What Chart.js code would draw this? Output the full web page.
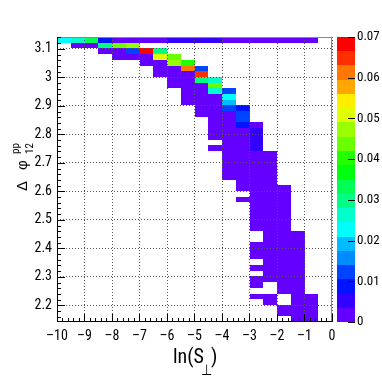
<!DOCTYPE html>
<html>
<head>
<meta charset="utf-8">
<script src="https://cdn.jsdelivr.net/npm/chart.js@4.4.0/dist/chart.umd.min.js"></script>
<style>
  html, body { margin: 0; padding: 0; background: #fff; }
  #wrap { width: 382px; height: 382px; position: relative; }
</style>
</head>
<body>
<div id="wrap"><canvas id="hist"></canvas></div>
<script>
// ── 2D histogram binning ────────────────────────────────────────
const X_MIN = -10, X_MAX = 0, X_BIN = 0.5;          // ln(S_perp), 20 bins
const Y_MAX = Math.PI, Y_MIN = Math.PI - 1, Y_BIN = 0.02; // delta phi, 50 bins
const Z_MAX = 0.07, N_CONTOURS = 20;

const X_TICKS = [-10, -9, -8, -7, -6, -5, -4, -3, -2, -1, 0];
const Y_TICKS = [2.2, 2.3, 2.4, 2.5, 2.6, 2.7, 2.8, 2.9, 3.0, 3.1];
const Z_TICKS = [0, 0.01, 0.02, 0.03, 0.04, 0.05, 0.06, 0.07];

// rows from the top bin (just below pi) downwards:
// first filled x bin of each row, then the bin contents from there (0 = empty)
const ROW_START = [
  0, 1, 3, 4, 6, 7, 7, 8, 8, 9,
  9, 9, 10, 10, 11, 11, 11, 11, 12, 11,
  12, 12, 12, 12, 12, 13, 13, 14, 13, 14,
  14, 14, 14, 14, 15, 15, 14, 14, 14, 15,
  14, 15, 14, 14, 16, 14, 15, 16, 16, 17
];
const ROW_VALUES = [
  [0.023, 0.026, 0.033, 0.009, 0.003, 0.003, 0.003, 0.003, 0.005, 0.005, 0.006, 0.006, 0.003, 0.002, 0.002, 0.002, 0.002, 0.002, 0.002],
  [0.002, 0.003, 0.030, 0.045, 0.046],
  [0.002, 0.003, 0.012, 0.068, 0.029],
  [0.002, 0.003, 0.003, 0.051, 0.045],
  [0.002, 0.003, 0.046, 0.040],
  [0.002, 0.003, 0.061, 0.012],
  [0.002, 0.003, 0.003, 0.065],
  [0.002, 0.003, 0.029, 0.028],
  [0.002, 0.003, 0.003, 0.043],
  [0.002, 0.003, 0.026, 0.012],
  [0.002, 0.003, 0.003, 0.022],
  [0.002, 0.003, 0.003, 0.021],
  [0.003, 0.003, 0.012, 0.008],
  [0.002, 0.003, 0.003, 0.013],
  [0.003, 0.003, 0.013],
  [0.003, 0.003, 0.009, 0.002],
  [0.002, 0.003, 0.003, 0.005],
  [0.002, 0.003, 0.003, 0.005],
  [0.003, 0.003, 0.005],
  [0.002, 0.003, 0.003, 0.005],
  [0.003, 0.003, 0.003, 0.002],
  [0.003, 0.003, 0.003, 0.002],
  [0.002, 0.003, 0.003, 0.002],
  [0.002, 0.003, 0.003, 0.002],
  [0.002, 0.003, 0.003, 0.002],
  [0.003, 0.003, 0.002],
  [0.002, 0.003, 0.003, 0.002],
  [0.003, 0.003, 0.002],
  [0.002, 0.003, 0.003, 0.002],
  [0.003, 0.003, 0.002],
  [0.003, 0.003, 0.002],
  [0.003, 0.003, 0.002],
  [0.002, 0.003, 0.002],
  [0.002, 0.003, 0.002],
  [0.003, 0.003, 0.002],
  [0.003, 0.003, 0.002],
  [0.002, 0.003, 0.003, 0.002],
  [0.002, 0.003, 0.003, 0.002],
  [0.002, 0.003, 0.003, 0.002],
  [0.003, 0.003, 0.002],
  [0.002, 0.003, 0.003, 0.002],
  [0.003, 0.003, 0.002],
  [0.002, 0.003, 0.003, 0.002],
  [0.002, 0, 0.003, 0.002],
  [0.003, 0.002],
  [0.002, 0.002, 0, 0.003, 0.002],
  [0.002, 0, 0.003, 0.002],
  [0.002, 0.003, 0.002],
  [0.002, 0.003, 0.002],
  [0.002, 0.002]
];

const FONT = "'Roboto Condensed', 'Liberation Sans', Arial, sans-serif";

// ROOT "pretty palette": HLS hue scan violet -> red, one colour per contour
function contourColor(k) {
  const i = Math.floor((k + 0.99) * 50 / N_CONTOURS);
  const hue = i >= 49 ? 0 : 280 - (i + 1) * 5.6;
  return `hsl(${hue}, 100%, 50%)`;
}
function colorFor(v) {
  const k = Math.min(N_CONTOURS - 1, Math.floor(v / (Z_MAX / N_CONTOURS)));
  return contourColor(k);
}

const heatmap = {
  id: 'heatmap',
  beforeDraw(chart) {
    const { ctx, chartArea: a, scales: { x, y } } = chart;
    ctx.save();
    ctx.beginPath();
    ctx.rect(a.left, a.top, a.width, a.height);
    ctx.clip();
    ROW_VALUES.forEach((vals, r) => {
      const hi = Y_MAX - r * Y_BIN;
      const top = Math.round(y.getPixelForValue(hi));
      const bot = Math.round(y.getPixelForValue(hi - Y_BIN));
      vals.forEach((v, i) => {
        if (!v) return;
        const c = ROW_START[r] + i;
        const l = Math.round(x.getPixelForValue(X_MIN + c * X_BIN));
        const rr = Math.round(x.getPixelForValue(X_MIN + (c + 1) * X_BIN));
        ctx.fillStyle = colorFor(v);
        ctx.fillRect(l, top, rr - l, bot - top);
      });
    });
    ctx.restore();
  },
  afterDraw(chart) {
    const { ctx, chartArea: a, scales: { x, y, z } } = chart;
    ctx.save();

    // frame
    ctx.lineWidth = 1;
    ctx.strokeStyle = '#888';
    ctx.beginPath();
    ctx.moveTo(a.left, a.top + 0.5); ctx.lineTo(a.right - 0.5, a.top + 0.5);
    ctx.lineTo(a.right - 0.5, a.bottom);
    ctx.stroke();
    ctx.strokeStyle = '#000';
    ctx.beginPath();
    ctx.moveTo(a.left + 0.5, a.top); ctx.lineTo(a.left + 0.5, a.bottom - 0.5);
    ctx.lineTo(a.right, a.bottom - 0.5);
    ctx.stroke();

    // inward tick marks, ROOT style
    ctx.beginPath();
    for (let v = X_MIN; v <= X_MAX + 1e-9; v += 0.2) {
      const px = Math.round(x.getPixelForValue(v)) + 0.5;
      const major = Math.abs(v - Math.round(v)) < 1e-6;
      ctx.moveTo(px, a.bottom);
      ctx.lineTo(px, a.bottom - (major ? 8 : 4));
    }
    for (let v = Math.ceil(Y_MIN / 0.02) * 0.02; v <= Y_MAX; v += 0.02) {
      const py = Math.round(y.getPixelForValue(v)) + 0.5;
      const major = Math.abs(v * 10 - Math.round(v * 10)) < 1e-6;
      ctx.moveTo(a.left, py);
      ctx.lineTo(a.left + (major ? 8 : 4), py);
    }
    ctx.stroke();

    // colour bar
    const bl = a.right + 5, bw = 18;
    const step = Z_MAX / N_CONTOURS;
    for (let k = 0; k < N_CONTOURS; k++) {
      const t = Math.round(z.getPixelForValue((k + 1) * step));
      const b = Math.round(z.getPixelForValue(k * step));
      ctx.fillStyle = contourColor(k);
      ctx.fillRect(bl, t, bw, b - t);
    }
    ctx.strokeStyle = '#000';
    ctx.beginPath();
    Z_TICKS.forEach(v => {
      const py = Math.round(z.getPixelForValue(v)) + 0.5;
      ctx.moveTo(bl + bw - 7, py);
      ctx.lineTo(bl + bw, py);
    });
    ctx.stroke();

    // axis titles
    ctx.fillStyle = '#000';
    ctx.textBaseline = 'alphabetic';
    ctx.textAlign = 'left';

    ctx.save();
    ctx.translate(173, 363);
    ctx.font = "20px 'Roboto Condensed', 'Liberation Sans', sans-serif";
    const w = ctx.measureText('ln(S').width;
    ctx.fillText('ln(S', 0, 0);
    ctx.fillText(')', w + 7, 0);
    ctx.scale(0.85, 1);
    ctx.font = "15px 'DejaVu Sans', sans-serif";
    ctx.fillText('\u22A5', (w - 3) / 0.85, 12);
    ctx.restore();

    ctx.save();
    ctx.translate(27, 191);
    ctx.rotate(-Math.PI / 2);
    ctx.font = "15px 'Liberation Sans', Arial, sans-serif";
    ctx.fillText('\u0394', 0, 0);
    ctx.fillText('\u03C6', 21, 0);
    ctx.font = "11px 'Roboto Condensed', 'Liberation Sans', sans-serif";
    ctx.fillText('pp', 37, -8);
    ctx.fillText('12', 37, 6);
    ctx.restore();

    ctx.restore();
  }
};

const tickFont = { family: FONT, size: 14 };

new Chart(document.getElementById('hist').getContext('2d'), {
  type: 'scatter',
  data: { datasets: [] },
  options: {
    responsive: true,
    maintainAspectRatio: false,
    animation: false,
    layout: { padding: { top: 37, left: 0, right: 0, bottom: 0 } },
    plugins: { legend: { display: false }, tooltip: { enabled: false } },
    scales: {
      x: {
        type: 'linear', position: 'bottom', min: X_MIN, max: X_MAX,
        afterBuildTicks: s => { s.ticks = X_TICKS.map(v => ({ value: v })); },
        afterFit: s => { s.height = 60; },
        grid: { color: '#555', drawTicks: false },
        border: { display: false, dash: [1, 2] },
        ticks: {
          color: '#000', font: tickFont, padding: 6, maxRotation: 0,
          callback: v => (v < 0 ? '\u2013' + (-v) : String(v))
        }
      },
      y: {
        type: 'linear', position: 'left', min: Y_MIN, max: Y_MAX,
        afterBuildTicks: s => { s.ticks = Y_TICKS.map(v => ({ value: v })); },
        afterFit: s => { s.width = 57; },
        grid: { color: '#555', drawTicks: false },
        border: { display: false, dash: [1, 2] },
        ticks: {
          color: '#000', font: tickFont, padding: 5,
          callback: v => String(Number(v.toFixed(1)))
        }
      },
      z: {
        type: 'linear', position: 'right', min: 0, max: Z_MAX,
        afterBuildTicks: s => { s.ticks = Z_TICKS.map(v => ({ value: v })); },
        afterFit: s => { s.width = 50; },
        grid: { drawOnChartArea: false, drawTicks: false },
        border: { display: false },
        ticks: {
          color: '#000', font: { family: FONT, size: 13 }, padding: 25,
          callback: v => (v === 0 ? '0' : v.toFixed(2))
        }
      }
    }
  },
  plugins: [heatmap]
});
</script>
</body>
</html>
